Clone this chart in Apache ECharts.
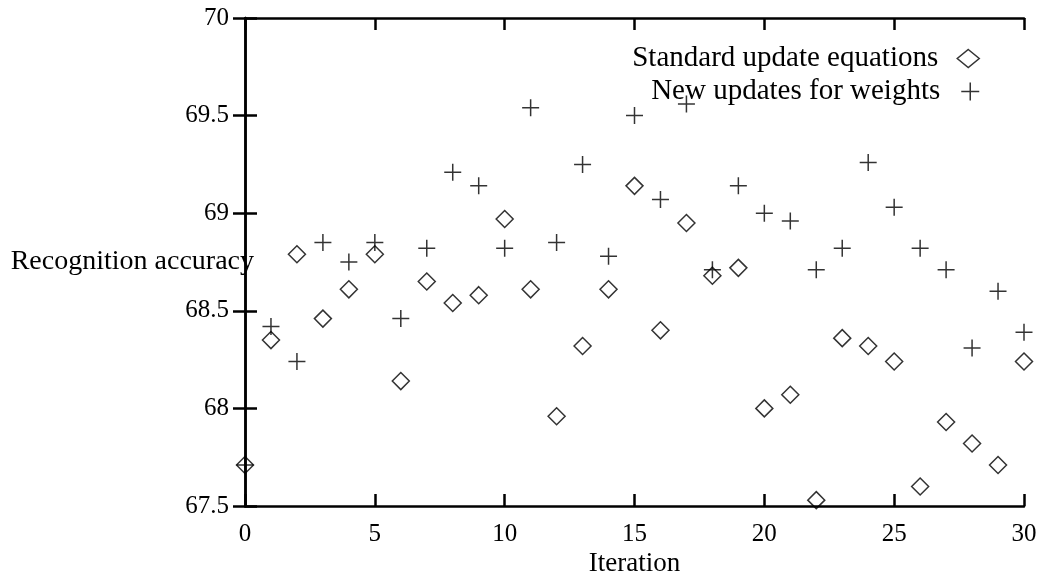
<!DOCTYPE html>
<html>
<head>
<meta charset="utf-8">
<script src="https://cdn.jsdelivr.net/npm/echarts@6/dist/echarts.min.js"></script>
<style>
  html, body { margin: 0; padding: 0; background: #fff; }
  #chart { width: 1041px; height: 582px; }
</style>
</head>
<body>
<div id="chart"></div>
<script>
// Iterations 0..30
const iterations = Array.from({ length: 31 }, (_, i) => i);

// Recognition accuracy with the standard update equations
const standardUpdates = [
  67.71, 68.35, 68.79, 68.46, 68.61, 68.79, 68.14, 68.65, 68.54, 68.58,
  68.97, 68.61, 67.96, 68.32, 68.61, 69.14, 68.40, 68.95, 68.68, 68.72,
  68.00, 68.07, 67.53, 68.36, 68.32, 68.24, 67.60, 67.93, 67.82, 67.71,
  68.24
];

// Recognition accuracy with the new updates for the weights
const newWeightUpdates = [
  67.71, 68.42, 68.24, 68.85, 68.75, 68.85, 68.46, 68.82, 69.21, 69.14,
  68.82, 69.54, 68.85, 69.25, 68.78, 69.50, 69.07, 69.56, 68.71, 69.14,
  69.00, 68.96, 68.71, 68.82, 69.26, 69.03, 68.82, 68.71, 68.31, 68.60,
  68.39
];

const seriesNames = ['Standard update equations', 'New updates for weights'];

const FONT = '"Liberation Serif", "Times New Roman", serif';
const PLUS = 'path://M0,8L16,8M8,0L8,16';

const toPairs = (vals) => iterations.map((x, i) => [x, vals[i]]);

const chart = echarts.init(document.getElementById('chart'), null, { renderer: 'canvas' });

const axisLine = { show: true, lineStyle: { color: '#000', width: 2.5 } };
const axisTick = { show: true, inside: true, length: 12, lineStyle: { color: '#000', width: 2.5 } };

const legendBase = {
  orient: 'vertical',
  align: 'right',
  right: 56,
  itemWidth: 22,
  itemHeight: 18,
  itemGap: 10,
  textStyle: { fontFamily: FONT, fontSize: 29, color: '#000', padding: [0, 14, 0, 0] },
  selectedMode: false
};

chart.setOption({
  backgroundColor: '#fff',
  animation: false,
  grid: { left: 245, right: 17, top: 18, bottom: 76, show: false, containLabel: false, outerBoundsMode: 'none' },
  legend: [
    Object.assign({}, legendBase, {
      top: 39,
      data: [{ name: seriesNames[0], icon: 'diamond', itemStyle: { color: '#fff', borderColor: '#000', borderWidth: 1.5 } }]
    }),
    Object.assign({}, legendBase, {
      top: 72,
      data: [{ name: seriesNames[1], icon: PLUS, itemStyle: { color: '#000', borderColor: '#000', borderWidth: 1.5 } }]
    })
  ],
  xAxis: [
    {
      type: 'value', position: 'bottom', min: 0, max: 30, interval: 5,
      axisLine, axisTick, splitLine: { show: false },
      axisLabel: { fontFamily: FONT, fontSize: 25, color: '#000', margin: 16 },
      name: 'Iteration', nameLocation: 'middle', nameGap: 44, nameMoveOverlap: false,
      nameTextStyle: { fontFamily: FONT, fontSize: 27, color: '#000' }
    },
    {
      type: 'value', position: 'top', min: 0, max: 30, interval: 5,
      axisLine, axisTick, splitLine: { show: false }, axisLabel: { show: false }
    }
  ],
  yAxis: [
    {
      type: 'value', position: 'left', min: 67.5, max: 70, interval: 0.5,
      axisLine, axisTick, splitLine: { show: false },
      axisLabel: { fontFamily: FONT, fontSize: 25, color: '#000', margin: 16 },
      name: 'Recognition accuracy', nameLocation: 'middle', nameRotate: 0, nameGap: -9,
      nameMoveOverlap: false,
      nameTextStyle: { fontFamily: FONT, fontSize: 28, color: '#000' }
    },
    {
      type: 'value', position: 'right', min: 67.5, max: 70, interval: 0.5,
      axisLine, axisTick, splitLine: { show: false }, axisLabel: { show: false }
    }
  ],
  series: [
    {
      name: seriesNames[0], type: 'scatter', xAxisIndex: 0, yAxisIndex: 0,
      symbol: 'diamond', symbolSize: 17,
      itemStyle: { color: 'rgba(255,255,255,0)', borderColor: '#000', borderWidth: 1.5 },
      data: toPairs(standardUpdates)
    },
    {
      name: seriesNames[1], type: 'scatter', xAxisIndex: 0, yAxisIndex: 0,
      symbol: PLUS, symbolSize: 17,
      itemStyle: { color: '#000', borderColor: '#000', borderWidth: 1.5 },
      data: toPairs(newWeightUpdates)
    }
  ]
});
</script>
</body>
</html>
